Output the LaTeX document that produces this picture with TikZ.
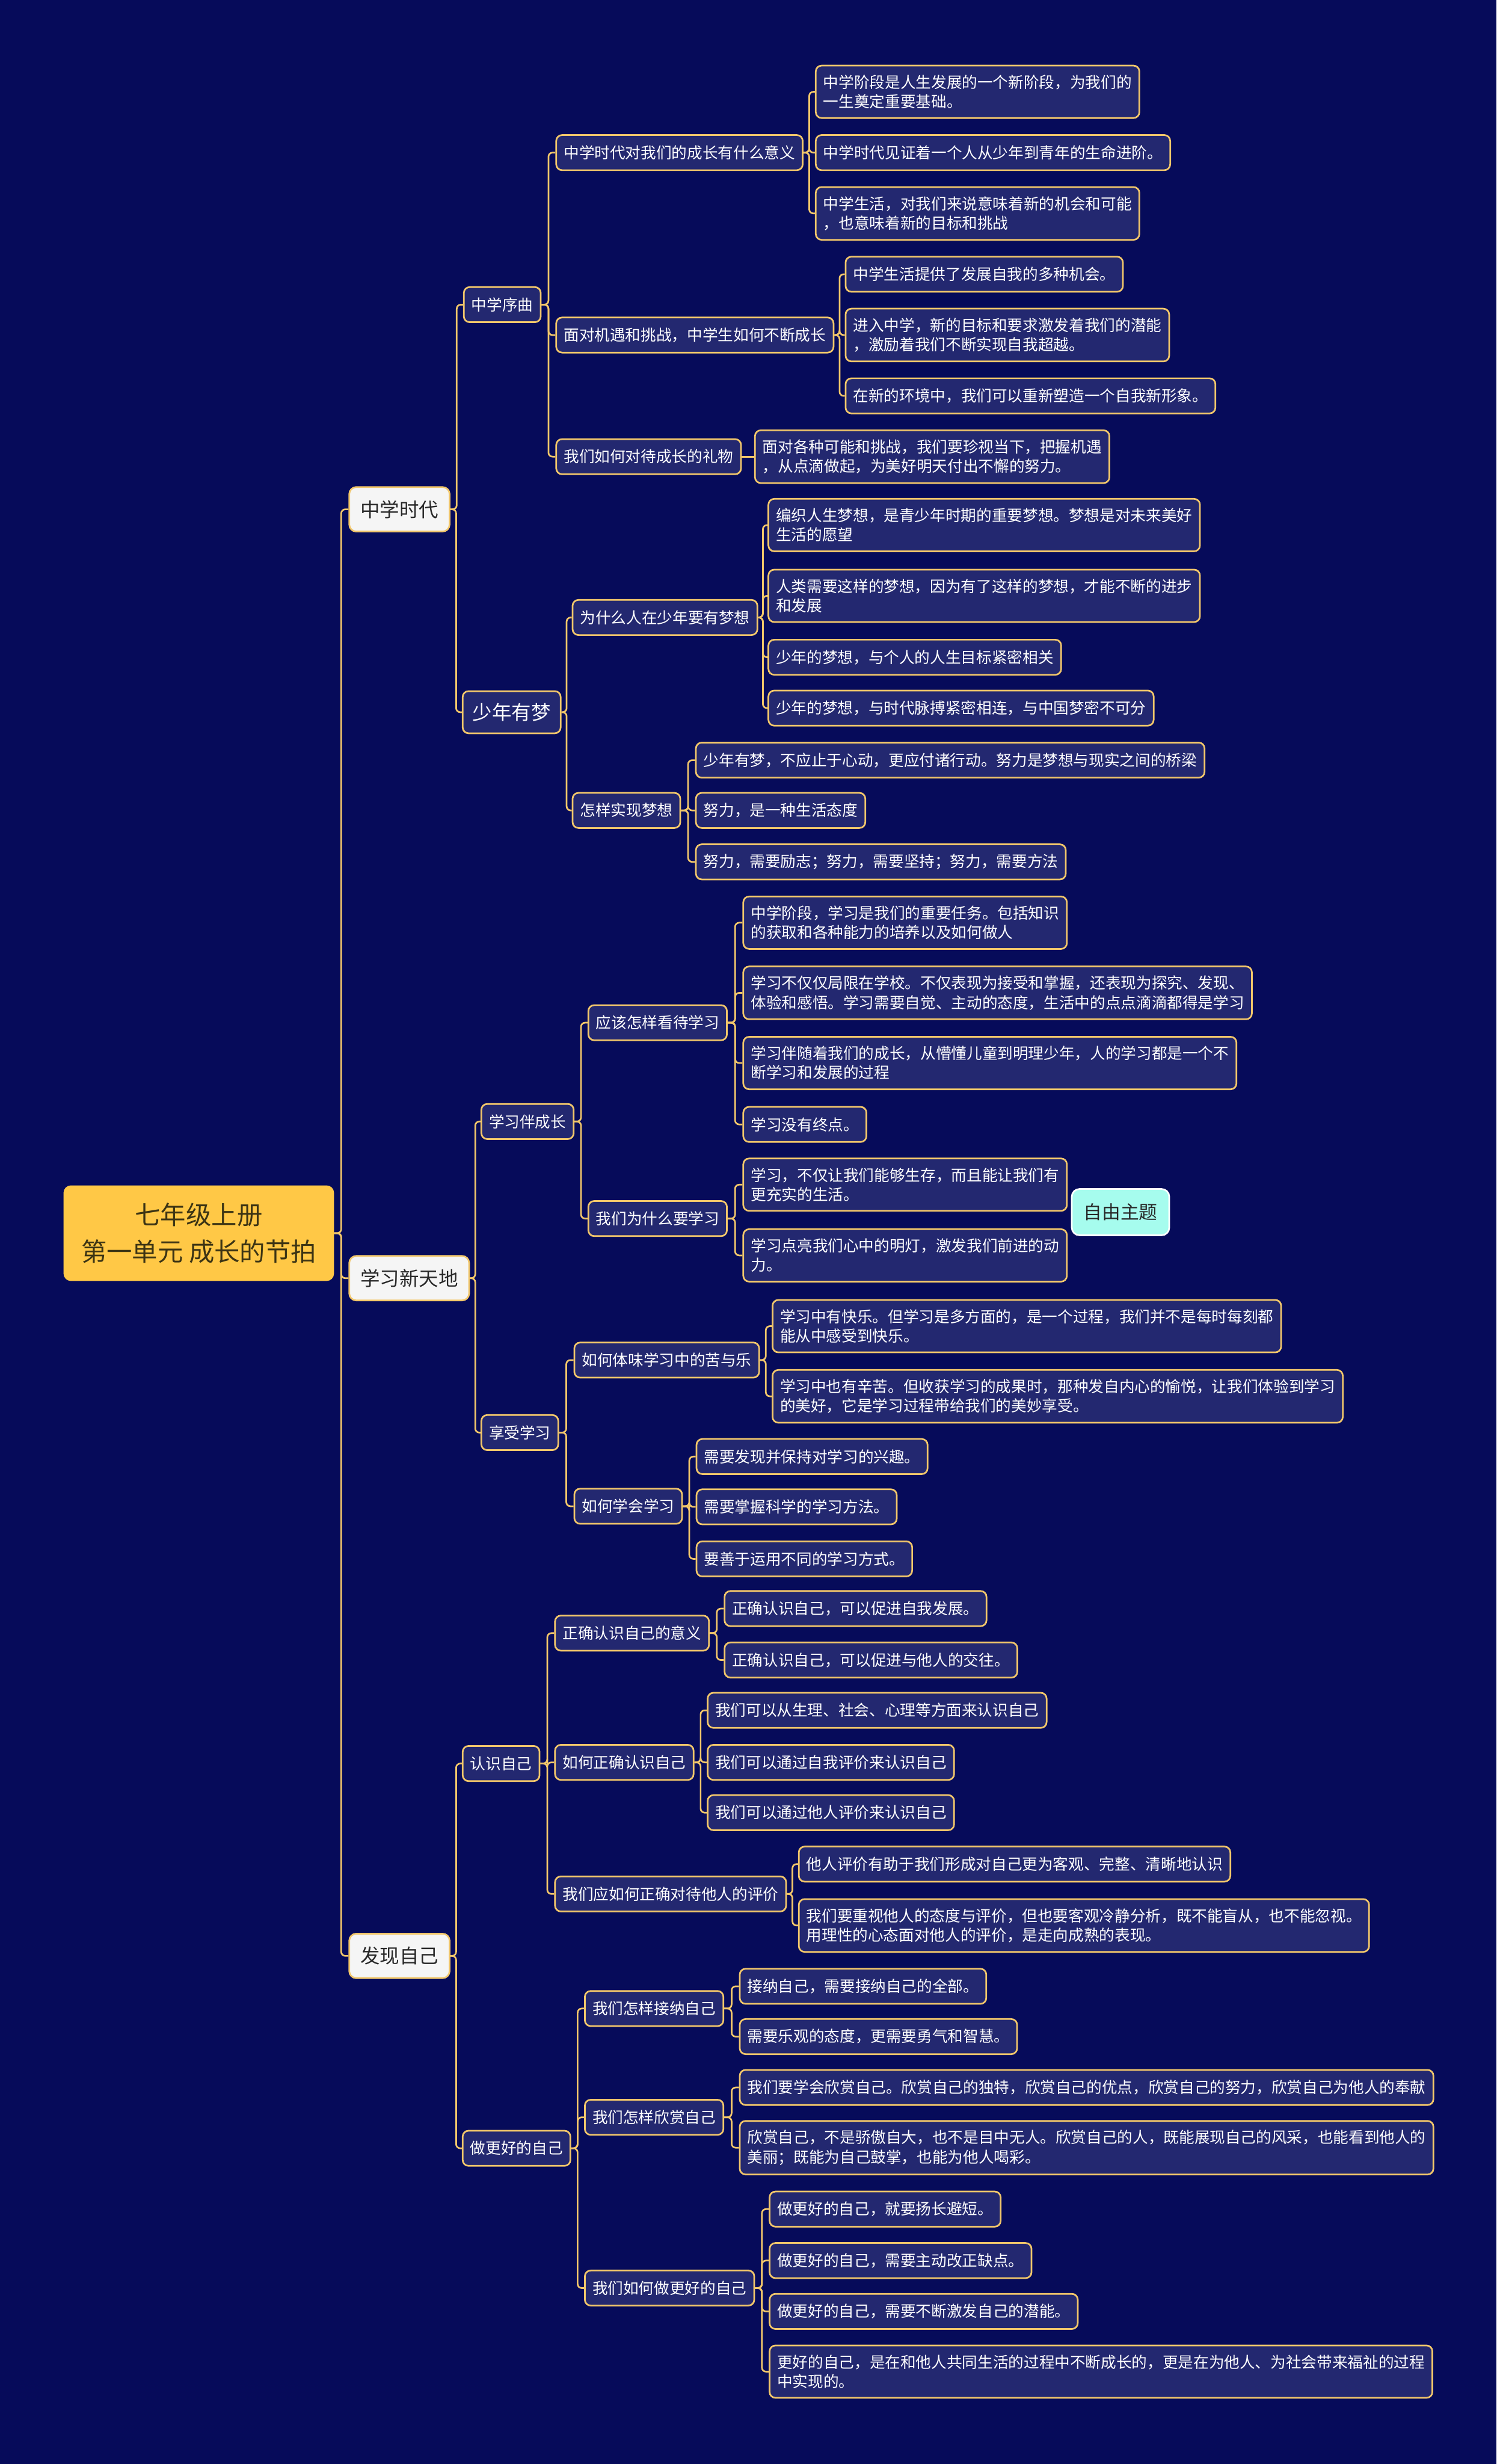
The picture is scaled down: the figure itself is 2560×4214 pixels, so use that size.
\documentclass[tikz,border=0pt]{standalone}
\usepackage{fontspec}
\setmainfont{Noto Sans CJK SC}
\usetikzlibrary{calc}
\definecolor{bgc}{RGB}{6,11,90}
\definecolor{nodebg}{RGB}{35,40,112}
\definecolor{gold}{RGB}{242,199,107}
\definecolor{lonebg}{RGB}{245,245,245}
\definecolor{lonetext}{RGB}{40,40,40}
\definecolor{rootbg}{RGB}{255,200,70}
\definecolor{roottext}{RGB}{60,52,20}
\definecolor{freebg}{RGB}{166,252,238}
\newcommand\leaffont{\fontsize{7.5pt}{9.4pt}\selectfont}
\newcommand\lonefont{\fontsize{9.5pt}{11pt}\selectfont}
\newcommand\rootfont{\fontsize{12.4pt}{17.6pt}\selectfont}
\newcommand\mmlink[2]{\draw[conn] let \p1=(#1.east), \p2=(#2.west) in (\p1) -- ({0.5*\x1+0.5*\x2},\y1) |- (\p2);}
\tikzset{
  leaf/.style={draw=gold, line width=0.8pt, fill=nodebg, rounded corners=0.1cm, text=white,
    font=\leaffont, inner xsep=0.13cm, inner ysep=0.16cm, minimum height=0.6cm, align=left, anchor=west},
  bigleaf/.style={leaf, font=\lonefont, inner xsep=0.17cm, minimum height=0.72cm},
  lone/.style={draw=gold, line width=0.8pt, fill=lonebg, rounded corners=0.12cm, text=lonetext,
    font=\lonefont, inner xsep=0.19cm, minimum height=0.76cm, anchor=west},
  rootnode/.style={fill=rootbg, draw=rootbg, rounded corners=0.12cm, text=roottext, font=\rootfont,
    minimum width=4.61cm, minimum height=1.62cm, align=center},
  freenode/.style={fill=freebg, draw=white, line width=0.8pt, rounded corners=0.13cm, text=lonetext,
    font=\fontsize{9pt}{11pt}\selectfont, inner xsep=0.2cm, minimum height=0.79cm, anchor=west},
  conn/.style={draw=gold, line width=0.8pt, rounded corners=0.07cm}
}
\begin{document}
\begin{tikzpicture}[x=0.01cm,y=-0.01cm]
\fill[bgc] (0,0) rectangle (2560,4214);
\useasboundingbox (0,0) rectangle (2560,4214);

\node[rootnode] (R) at (340,2109) {七年级上册\\第一单元 成长的节拍};
\node[lone] (A) at (596,871) {中学时代};
\node[lone] (B) at (596,2186) {学习新天地};
\node[lone] (C) at (596,3345) {发现自己};

% 中学时代
\node[leaf] (A1) at (792,521) {中学序曲};
\node[bigleaf] (A2) at (790,1218) {少年有梦};
\node[leaf] (A11) at (950,261) {中学时代对我们的成长有什么意义};
\node[leaf] (A12) at (950,573) {面对机遇和挑战，中学生如何不断成长};
\node[leaf] (A13) at (950,781) {我们如何对待成长的礼物};
\node[leaf] (A111) at (1394,157) {中学阶段是人生发展的一个新阶段，为我们的\\一生奠定重要基础。};
\node[leaf] (A112) at (1394,261) {中学时代见证着一个人从少年到青年的生命进阶。};
\node[leaf] (A113) at (1394,365) {中学生活，对我们来说意味着新的机会和可能\\，也意味着新的目标和挑战};
\node[leaf] (A121) at (1445,469) {中学生活提供了发展自我的多种机会。};
\node[leaf] (A122) at (1445,573) {进入中学，新的目标和要求激发着我们的潜能\\，激励着我们不断实现自我超越。};
\node[leaf] (A123) at (1445,677) {在新的环境中，我们可以重新塑造一个自我新形象。};
\node[leaf] (A131) at (1290,781) {面对各种可能和挑战，我们要珍视当下，把握机遇\\，从点滴做起，为美好明天付出不懈的努力。};
\node[leaf] (A21) at (978,1056) {为什么人在少年要有梦想};
\node[leaf] (A22) at (978,1386) {怎样实现梦想};
\node[leaf] (A211) at (1313,898) {编织人生梦想，是青少年时期的重要梦想。梦想是对未来美好\\生活的愿望};
\node[leaf] (A212) at (1313,1019) {人类需要这样的梦想，因为有了这样的梦想，才能不断的进步\\和发展};
\node[leaf] (A213) at (1313,1124) {少年的梦想，与个人的人生目标紧密相关};
\node[leaf] (A214) at (1313,1211) {少年的梦想，与时代脉搏紧密相连，与中国梦密不可分};
\node[leaf] (A221) at (1189,1300) {少年有梦，不应止于心动，更应付诸行动。努力是梦想与现实之间的桥梁};
\node[leaf] (A222) at (1189,1386) {努力，是一种生活态度};
\node[leaf] (A223) at (1189,1474) {努力，需要励志；努力，需要坚持；努力，需要方法};

% 学习新天地
\node[leaf] (B1) at (822,1918) {学习伴成长};
\node[leaf] (B2) at (822,2450) {享受学习};
\node[leaf] (B11) at (1005,1749) {应该怎样看待学习};
\node[leaf] (B12) at (1005,2084) {我们为什么要学习};
\node[leaf] (B111) at (1270,1578) {中学阶段，学习是我们的重要任务。包括知识\\的获取和各种能力的培养以及如何做人};
\node[leaf] (B112) at (1270,1698) {学习不仅仅局限在学校。不仅表现为接受和掌握，还表现为探究、发现、\\体验和感悟。学习需要自觉、主动的态度，生活中的点点滴滴都得是学习};
\node[leaf] (B113) at (1270,1818) {学习伴随着我们的成长，从懵懂儿童到明理少年，人的学习都是一个不\\断学习和发展的过程};
\node[leaf] (B114) at (1270,1923) {学习没有终点。};
\node[leaf] (B121) at (1270,2026) {学习，不仅让我们能够生存，而且能让我们有\\更充实的生活。};
\node[leaf] (B122) at (1270,2147) {学习点亮我们心中的明灯，激发我们前进的动\\力。};
\node[freenode] (F) at (1832,2073) {自由主题};
\node[leaf] (B21) at (981,2326) {如何体味学习中的苦与乐};
\node[leaf] (B22) at (981,2576) {如何学会学习};
\node[leaf] (B211) at (1320,2268) {学习中有快乐。但学习是多方面的，是一个过程，我们并不是每时每刻都\\能从中感受到快乐。};
\node[leaf] (B212) at (1320,2388) {学习中也有辛苦。但收获学习的成果时，那种发自内心的愉悦，让我们体验到学习\\的美好，它是学习过程带给我们的美妙享受。};
\node[leaf] (B221) at (1190,2491) {需要发现并保持对学习的兴趣。};
\node[leaf] (B222) at (1190,2577) {需要掌握科学的学习方法。};
\node[leaf] (B223) at (1190,2666) {要善于运用不同的学习方式。};

% 发现自己
\node[leaf] (C1) at (790,3016) {认识自己};
\node[leaf] (C2) at (790,3674) {做更好的自己};
\node[leaf] (C11) at (948,2793) {正确认识自己的意义};
\node[leaf] (C12) at (948,3014) {如何正确认识自己};
\node[leaf] (C13) at (948,3239) {我们应如何正确对待他人的评价};
\node[leaf] (C111) at (1238,2751) {正确认识自己，可以促进自我发展。};
\node[leaf] (C112) at (1238,2839) {正确认识自己，可以促进与他人的交往。};
\node[leaf] (C121) at (1209,2925) {我们可以从生理、社会、心理等方面来认识自己};
\node[leaf] (C122) at (1209,3014) {我们可以通过自我评价来认识自己};
\node[leaf] (C123) at (1209,3100) {我们可以通过他人评价来认识自己};
\node[leaf] (C131) at (1365,3188) {他人评价有助于我们形成对自己更为客观、完整、清晰地认识};
\node[leaf] (C132) at (1365,3293) {我们要重视他人的态度与评价，但也要客观冷静分析，既不能盲从，也不能忽视。\\用理性的心态面对他人的评价，是走向成熟的表现。};
\node[leaf] (C21) at (999,3435) {我们怎样接纳自己};
\node[leaf] (C22) at (999,3621) {我们怎样欣赏自己};
\node[leaf] (C23) at (999,3913) {我们如何做更好的自己};
\node[leaf] (C211) at (1264,3397) {接纳自己，需要接纳自己的全部。};
\node[leaf] (C212) at (1264,3483) {需要乐观的态度，更需要勇气和智慧。};
\node[leaf] (C221) at (1264,3570) {我们要学会欣赏自己。欣赏自己的独特，欣赏自己的优点，欣赏自己的努力，欣赏自己为他人的奉献};
\node[leaf] (C222) at (1264,3673) {欣赏自己，不是骄傲自大，也不是目中无人。欣赏自己的人，既能展现自己的风采，也能看到他人的\\美丽；既能为自己鼓掌，也能为他人喝彩。};
\node[leaf] (C231) at (1315,3778) {做更好的自己，就要扬长避短。};
\node[leaf] (C232) at (1315,3866) {做更好的自己，需要主动改正缺点。};
\node[leaf] (C233) at (1315,3953) {做更好的自己，需要不断激发自己的潜能。};
\node[leaf] (C234) at (1315,4056) {更好的自己，是在和他人共同生活的过程中不断成长的，更是在为他人、为社会带来福祉的过程\\中实现的。};

% connectors
\foreach \pa/\ch in {R/A,R/B,R/C,
  A/A1,A/A2,A1/A11,A1/A12,A1/A13,A11/A111,A11/A112,A11/A113,A12/A121,A12/A122,A12/A123,
  A2/A21,A2/A22,A21/A211,A21/A212,A21/A213,A21/A214,A22/A221,A22/A222,A22/A223,
  B/B1,B/B2,B1/B11,B1/B12,B11/B111,B11/B112,B11/B113,B11/B114,B12/B121,B12/B122,
  B2/B21,B2/B22,B21/B211,B21/B212,B22/B221,B22/B222,B22/B223,
  C/C1,C/C2,C1/C11,C1/C12,C1/C13,C11/C111,C11/C112,C12/C121,C12/C122,C12/C123,C13/C131,C13/C132,
  C2/C21,C2/C22,C2/C23,C21/C211,C21/C212,C22/C221,C22/C222,C23/C231,C23/C232,C23/C233,C23/C234}
  {\mmlink{\pa}{\ch}}
\draw[conn] (A13.east) -- (A131.west);
\end{tikzpicture}
\end{document}
